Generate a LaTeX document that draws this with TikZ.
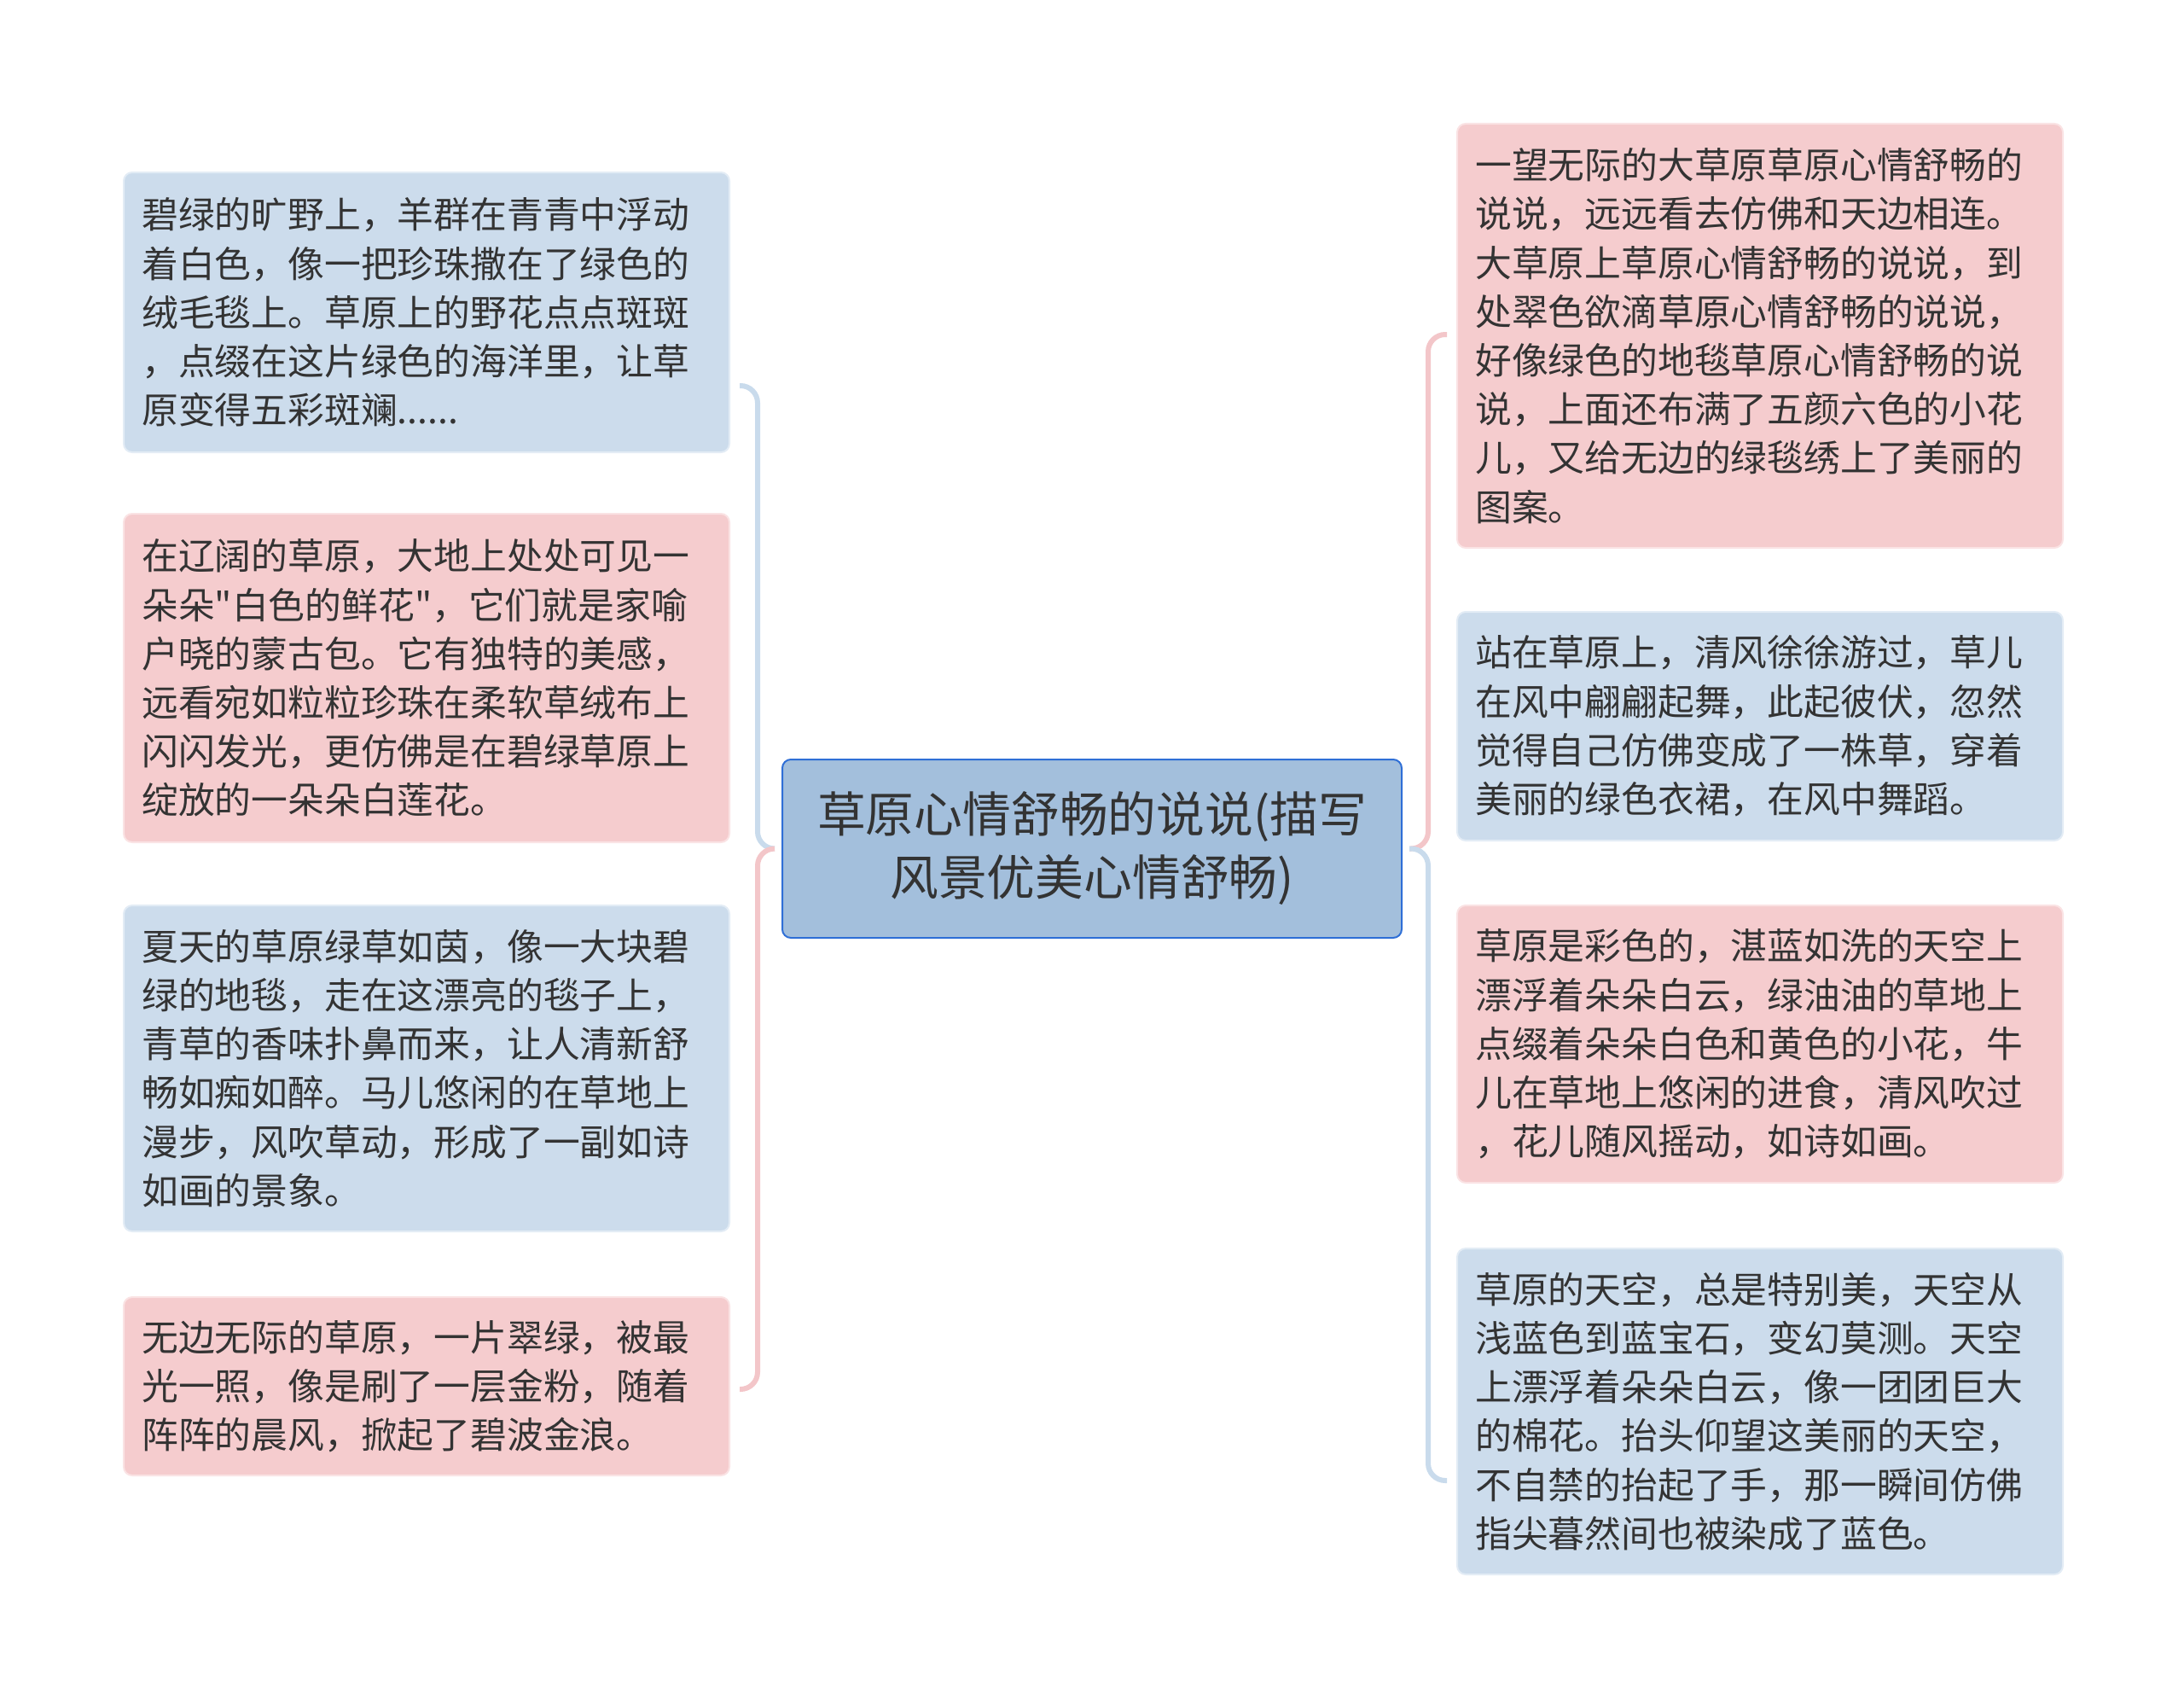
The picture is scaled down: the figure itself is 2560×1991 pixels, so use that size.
\documentclass[tikz,border=0pt]{standalone}
\usepackage{fontspec}
\usepackage{tikz}
\newfontfamily\cjk{Noto Sans CJK SC}

\definecolor{leafblue}{HTML}{CCDCEC}
\definecolor{leafpink}{HTML}{F5CCCE}
\definecolor{rootfill}{HTML}{A3BFDC}
\definecolor{rootline}{HTML}{2F6FD6}
\definecolor{linkblue}{HTML}{C9DBEC}
\definecolor{linkpink}{HTML}{F3C6C9}
\definecolor{txt}{HTML}{333333}

\tikzset{
  leaf/.style={rounded corners=5pt, line width=1pt, text width=333.8pt, inner xsep=10.6pt, inner ysep=0pt,
    minimum width=355pt, align=left, text=txt, font={\cjk\fontsize{21.4pt}{28.6pt}\selectfont}},
  bleaf/.style={leaf, fill=leafblue, draw=leafblue!55!white},
  pleaf/.style={leaf, fill=leafpink, draw=leafpink!55!white},
  root/.style={rounded corners=5pt, line width=1pt, fill=rootfill, draw=rootline, text=txt,
    minimum width=363pt, minimum height=104.5pt, align=center, font={\cjk\fontsize{28.4pt}{37pt}\selectfont}},
  blink/.style={draw=linkblue, line width=3pt, rounded corners=10pt},
  plink/.style={draw=linkpink, line width=3pt, rounded corners=10pt}
}

\begin{document}
\begin{tikzpicture}[x=0.5pt, y=-0.5pt]
\useasboundingbox (0,0) rectangle (2560,1991);
% 中心
\node[root] (root) at (1280,994.5) {草原心情舒畅的说说(描写\\风景优美心情舒畅)};
% 左
\node[bleaf, minimum height=164pt] (l1) at (500,366) {碧绿的旷野上，羊群在青青中浮动\\着白色，像一把珍珠撒在了绿色的\\绒毛毯上。草原上的野花点点斑斑\\，点缀在这片绿色的海洋里，让草\\原变得五彩斑斓......};
\node[pleaf, minimum height=192.5pt] (l2) at (500,794.5) {在辽阔的草原，大地上处处可见一\\朵朵"白色的鲜花"，它们就是家喻\\户晓的蒙古包。它有独特的美感，\\远看宛如粒粒珍珠在柔软草绒布上\\闪闪发光，更仿佛是在碧绿草原上\\绽放的一朵朵白莲花。};
\node[bleaf, minimum height=191pt] (l3) at (500,1252) {夏天的草原绿草如茵，像一大块碧\\绿的地毯，走在这漂亮的毯子上，\\青草的香味扑鼻而来，让人清新舒\\畅如痴如醉。马儿悠闲的在草地上\\漫步，风吹草动，形成了一副如诗\\如画的景象。};
\node[pleaf, minimum height=104.5pt] (l4) at (500,1624.5) {无边无际的草原，一片翠绿，被最\\光一照，像是刷了一层金粉，随着\\阵阵的晨风，掀起了碧波金浪。};
% 右
\node[pleaf, minimum height=248.5pt] (r1) at (2063,393.5) {一望无际的大草原草原心情舒畅的\\说说，远远看去仿佛和天边相连。\\大草原上草原心情舒畅的说说，到\\处翠色欲滴草原心情舒畅的说说，\\好像绿色的地毯草原心情舒畅的说\\说，上面还布满了五颜六色的小花\\儿，又给无边的绿毯绣上了美丽的\\图案。};
\node[bleaf, minimum height=134pt] (r2) at (2063,851) {站在草原上，清风徐徐游过，草儿\\在风中翩翩起舞，此起彼伏，忽然\\觉得自己仿佛变成了一株草，穿着\\美丽的绿色衣裙，在风中舞蹈。};
\node[pleaf, minimum height=162.5pt] (r3) at (2063,1223.5) {草原是彩色的，湛蓝如洗的天空上\\漂浮着朵朵白云，绿油油的草地上\\点缀着朵朵白色和黄色的小花，牛\\儿在草地上悠闲的进食，清风吹过\\，花儿随风摇动，如诗如画。};
\node[bleaf, minimum height=191pt] (r4) at (2063,1654) {草原的天空，总是特别美，天空从\\浅蓝色到蓝宝石，变幻莫测。天空\\上漂浮着朵朵白云，像一团团巨大\\的棉花。抬头仰望这美丽的天空，\\不自禁的抬起了手，那一瞬间仿佛\\指尖暮然间也被染成了蓝色。};
% 括号
\coordinate (lt) at (867,452);
\coordinate (lb) at (867,1628);
\coordinate (rt) at (1696,392);
\coordinate (rb) at (1696,1735);
\draw[blink] ([xshift=-4pt]root.west) -- ++(-20,0) |- (lt);
\draw[plink] ([xshift=-4pt]root.west) -- ++(-20,0) |- (lb);
\draw[plink] ([xshift=4pt]root.east) -- ++(22,0) |- (rt);
\draw[blink] ([xshift=4pt]root.east) -- ++(22,0) |- (rb);
\end{tikzpicture}
\end{document}
